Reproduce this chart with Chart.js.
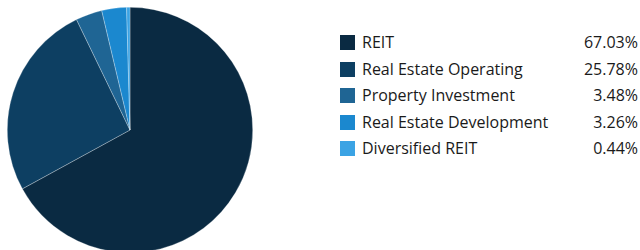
<!DOCTYPE html>
<html><head><meta charset="utf-8">
<script src="https://cdn.jsdelivr.net/npm/chart.js@4/dist/chart.umd.min.js"></script>
<style>
html,body{margin:0;padding:0;width:640px;height:250px;overflow:hidden;background:#fff;font-family:"Open Sans",sans-serif;}
#pie{position:absolute;left:7px;top:7px;width:246px;height:246px;}
#legend{position:absolute;left:340px;top:31px;width:298px;}
.row{position:relative;height:26.5px;font-size:16px;color:#1a1a1a;}
.sw{position:absolute;left:0;top:4px;width:15px;height:15px;}
.lb{position:absolute;left:22px;top:0;line-height:22px;}
.pc{position:absolute;right:0;top:0;line-height:22px;}
</style></head>
<body>
<div id="pie"><canvas id="c"></canvas></div>
<div id="legend"></div>
<script>
const categories = ["REIT","Real Estate Operating","Property Investment","Real Estate Development","Diversified REIT"];
const values = [67.03,25.78,3.48,3.26,0.44];
const colors = ["#0a2a42","#0d3f62","#1f6594","#1b88cf","#3ba3e4"];

const lg = document.getElementById('legend');
categories.forEach((c,i)=>{
  const r=document.createElement('div');r.className='row';
  r.innerHTML='<div class="sw" style="background:'+colors[i]+'"></div><span class="lb">'+c+'</span><span class="pc">'+values[i].toFixed(2)+'%</span>';
  lg.appendChild(r);
});

new Chart(document.getElementById('c'),{
  type:'pie',
  data:{labels:categories,datasets:[{data:values,backgroundColor:colors,borderColor:'rgba(255,255,255,0.45)',borderWidth:0.6}]},
  options:{responsive:true,maintainAspectRatio:false,animation:false,
    layout:{padding:0},
    plugins:{legend:{display:false},tooltip:{enabled:false}},
    rotation:0}
});
</script>
</body></html>
